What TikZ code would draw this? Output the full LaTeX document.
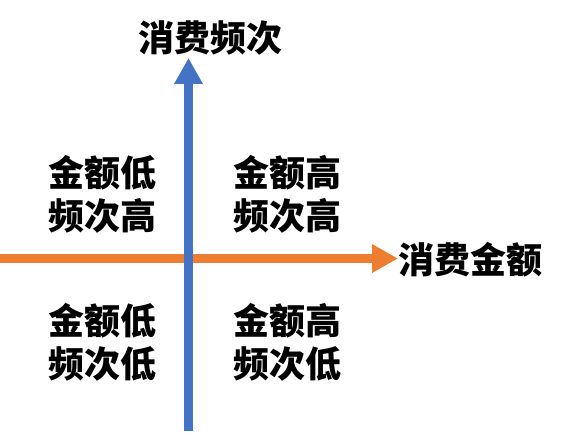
\documentclass[tikz,border=0pt]{standalone}
\usepackage{fontspec}
\newfontfamily\cjk{Noto Sans CJK SC}
\usetikzlibrary{arrows.meta}
\definecolor{axisorange}{HTML}{ED7D31}
\definecolor{axisblue}{HTML}{4472C4}
\tikzset{
  lbl/.style={font=\cjk\bfseries\fontsize{36}{43}\selectfont, inner sep=0pt, align=center, text=black},
  axisline/.style={line width=9pt, -{Triangle[length=26pt,width=27pt]}}
}
\begin{document}
\begin{tikzpicture}[x=1pt,y=-1pt]
\useasboundingbox (0,0) rectangle (569,438);
\coordinate (hs) at (0,258.5);
\coordinate (he) at (398,258.5);
\coordinate (vs) at (188.5,431);
\coordinate (ve) at (188.5,58);
\draw[axisline, axisorange] (hs) -- (he);
\draw[axisline, axisblue] (vs) -- (ve);
\node[lbl] (ylab) at (210,38) {消费频次};
\node[lbl, anchor=west] (xlab) at (398,260) {消费金额};
\node[lbl] (q2) at (102,194) {金额低\\频次高};
\node[lbl] (q1) at (287,194) {金额高\\频次高};
\node[lbl] (q3) at (102,342) {金额低\\频次低};
\node[lbl] (q4) at (287,342) {金额高\\频次低};
\end{tikzpicture}
\end{document}
